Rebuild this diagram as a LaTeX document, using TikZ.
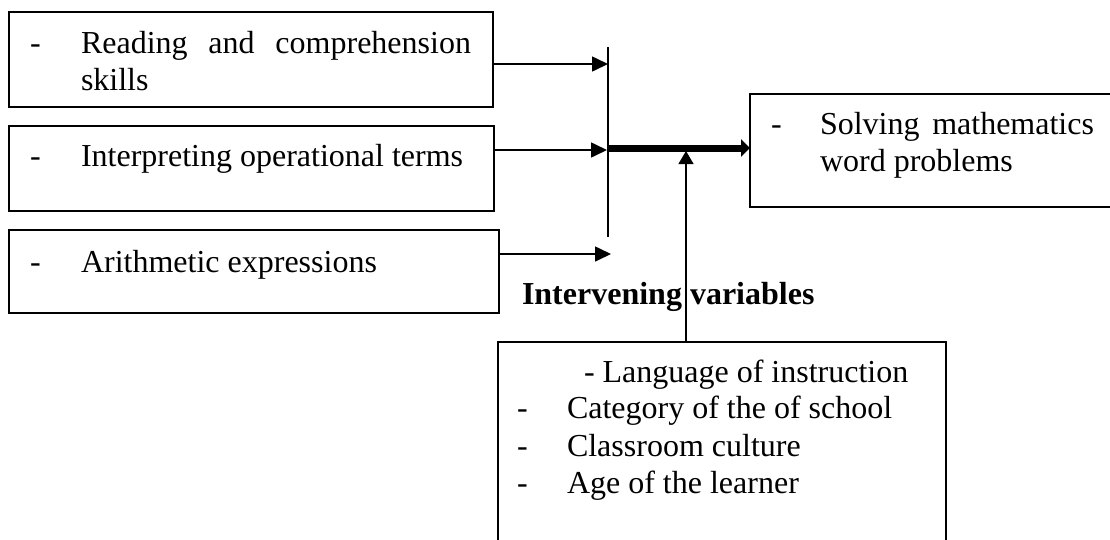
\documentclass[tikz,border=0pt]{standalone}
\usepackage{fontspec}
\setmainfont{Liberation Serif}
\usetikzlibrary{arrows.meta}
\tikzset{
  boxst/.style={draw, line width=1.7pt, inner sep=0pt, outer sep=0pt, anchor=north west},
  txt/.style={inner sep=0pt, outer sep=0pt, anchor=base west, font=\fontsize{32}{37}\selectfont},
  btxt/.style={txt, font=\fontsize{32}{37}\selectfont\bfseries},
  arr/.style={line width=1.6pt, -{Triangle[length=16pt,width=15pt]}},
  thickarr/.style={line width=7pt, -{Triangle[length=9pt,width=17pt]}},
  uparr/.style={line width=1.2pt, -{Triangle[length=13pt,width=15pt]}},
}
\begin{document}
\begin{tikzpicture}[x=1pt,y=-1pt]
\useasboundingbox (0,0) rectangle (1110,539);
\clip (0,0) rectangle (1110,539);
% boxes
\node[boxst, minimum width=484pt, minimum height=95pt] (b1) at (9,12) {};
\node[boxst, minimum width=485pt, minimum height=85pt] (b2) at (9,126) {};
\node[boxst, minimum width=490pt, minimum height=83pt] (b3) at (9,230) {};
\node[boxst, minimum width=370pt, minimum height=113pt] (b4) at (750,94) {};
\node[boxst, minimum width=448pt, minimum height=230pt] (b5) at (498,342) {};
% texts
\node[txt] (t1d) at (30,53) {-};
\node[txt] (t1a) at (81,53) {\hbox to 390pt{Reading\hfill and\hfill comprehension}};
\node[txt] (t1b) at (81,90) {skills};
\node[txt] (t2d) at (30,166) {-};
\node[txt] (t2a) at (81,166) {Interpreting operational terms};
\node[txt] (t3d) at (30,272) {-};
\node[txt] (t3a) at (81,272) {Arithmetic expressions};
\node[txt] (t4d) at (771,134) {-};
\node[txt] (t4a) at (820,134) {\hbox to 274pt{Solving\hfill mathematics}};
\node[txt] (t4b) at (820,171) {word problems};
\node[btxt] (iv) at (522,304) {Intervening variables};
\node[txt] (t5a) at (584,382) {- Language of instruction};
\node[txt] (t5bd) at (517,418) {-};
\node[txt] (t5b) at (567,418) {Category of the of school};
\node[txt] (t5cd) at (517,456) {-};
\node[txt] (t5c) at (567,456) {Classroom culture};
\node[txt] (t5dd) at (517,493) {-};
\node[txt] (t5d) at (567,493) {Age of the learner};
% junction
\coordinate (vtop) at (608,47);
\coordinate (vbot) at (608,237);
\coordinate (a1) at (608,64);
\coordinate (a2) at (607,150);
\coordinate (a3) at (611,254);
\coordinate (j) at (608,148);
\coordinate (u) at (686,151);
\draw[line width=1.6pt] (vtop) -- (vbot);
\draw[arr] (b1.east |- a1) -- (a1);
\draw[arr] (b2.east |- a2) -- (a2);
\draw[arr] (b3.east |- a3) -- (a3);
\draw[thickarr] (j) -- (b4.west |- j);
\draw[uparr] (b5.north -| u) -- (u);
\end{tikzpicture}
\end{document}
